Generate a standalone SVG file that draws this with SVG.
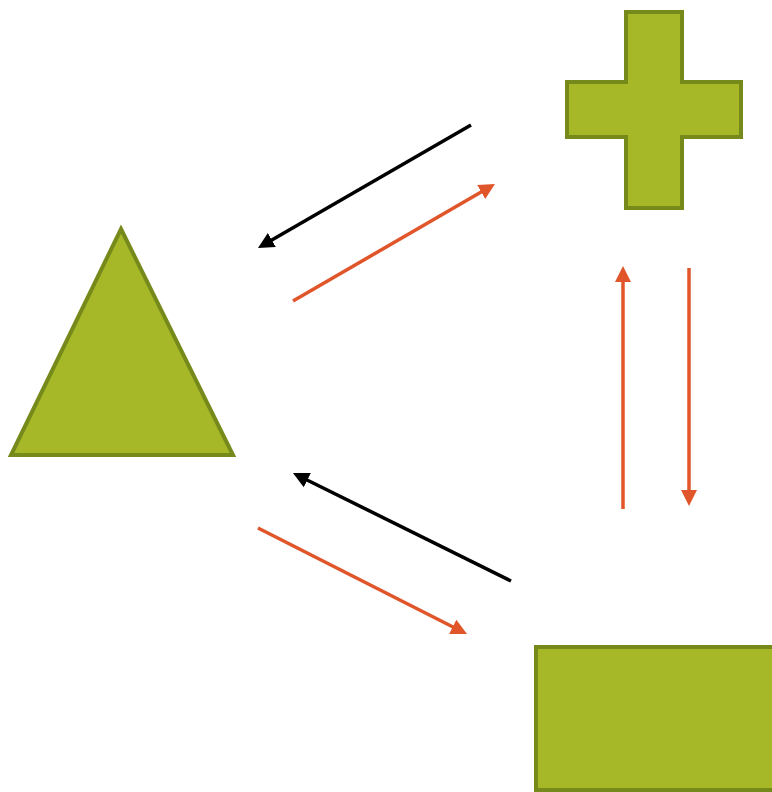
<svg xmlns="http://www.w3.org/2000/svg" width="772" height="792" viewBox="0 0 772 792">
<style>
.shape{fill:#A6B728;stroke:#768A1C;stroke-width:4;stroke-linejoin:miter}
.blk{stroke:#000;stroke-width:3.5;fill:none}
.org{stroke:#E0552A;stroke-width:3.5;fill:none}
</style>
<defs>
<marker id="ab" markerUnits="userSpaceOnUse" markerWidth="18" markerHeight="18" viewBox="0 -9 18 18" refX="2" refY="0" orient="auto"><path d="M0,-8 L16,0 L0,8 z" fill="#000"/></marker>
<marker id="ao" markerUnits="userSpaceOnUse" markerWidth="18" markerHeight="18" viewBox="0 -9 18 18" refX="2" refY="0" orient="auto"><path d="M0,-8 L16,0 L0,8 z" fill="#E0552A"/></marker>
</defs>
<rect width="772" height="792" fill="#fff"/>
<g id="cross"><path class="shape" d="M626,12 H682 V82 H741 V137 H682 V208 H626 V137 H567 V82 H626 Z"/></g>
<g id="triangle"><path class="shape" stroke-linejoin="round" d="M121,229 L233,455 L11,455 Z"/></g>
<g id="rectangle"><rect class="shape" x="536" y="647" width="240" height="143"/></g>
<g id="connectors">
<line class="blk" x1="471" y1="125" x2="270.1" y2="241" marker-end="url(#ab)"/>
<line class="org" x1="293" y1="301" x2="482.9" y2="191" marker-end="url(#ao)"/>
<line class="blk" x1="511" y1="581" x2="305.5" y2="479.2" marker-end="url(#ab)"/>
<line class="org" x1="258" y1="528" x2="454.5" y2="627.7" marker-end="url(#ao)"/>
<line class="org" x1="623" y1="509" x2="623" y2="280" marker-end="url(#ao)"/>
<line class="org" x1="689" y1="268" x2="689" y2="492" marker-end="url(#ao)"/>
</g>
</svg>
